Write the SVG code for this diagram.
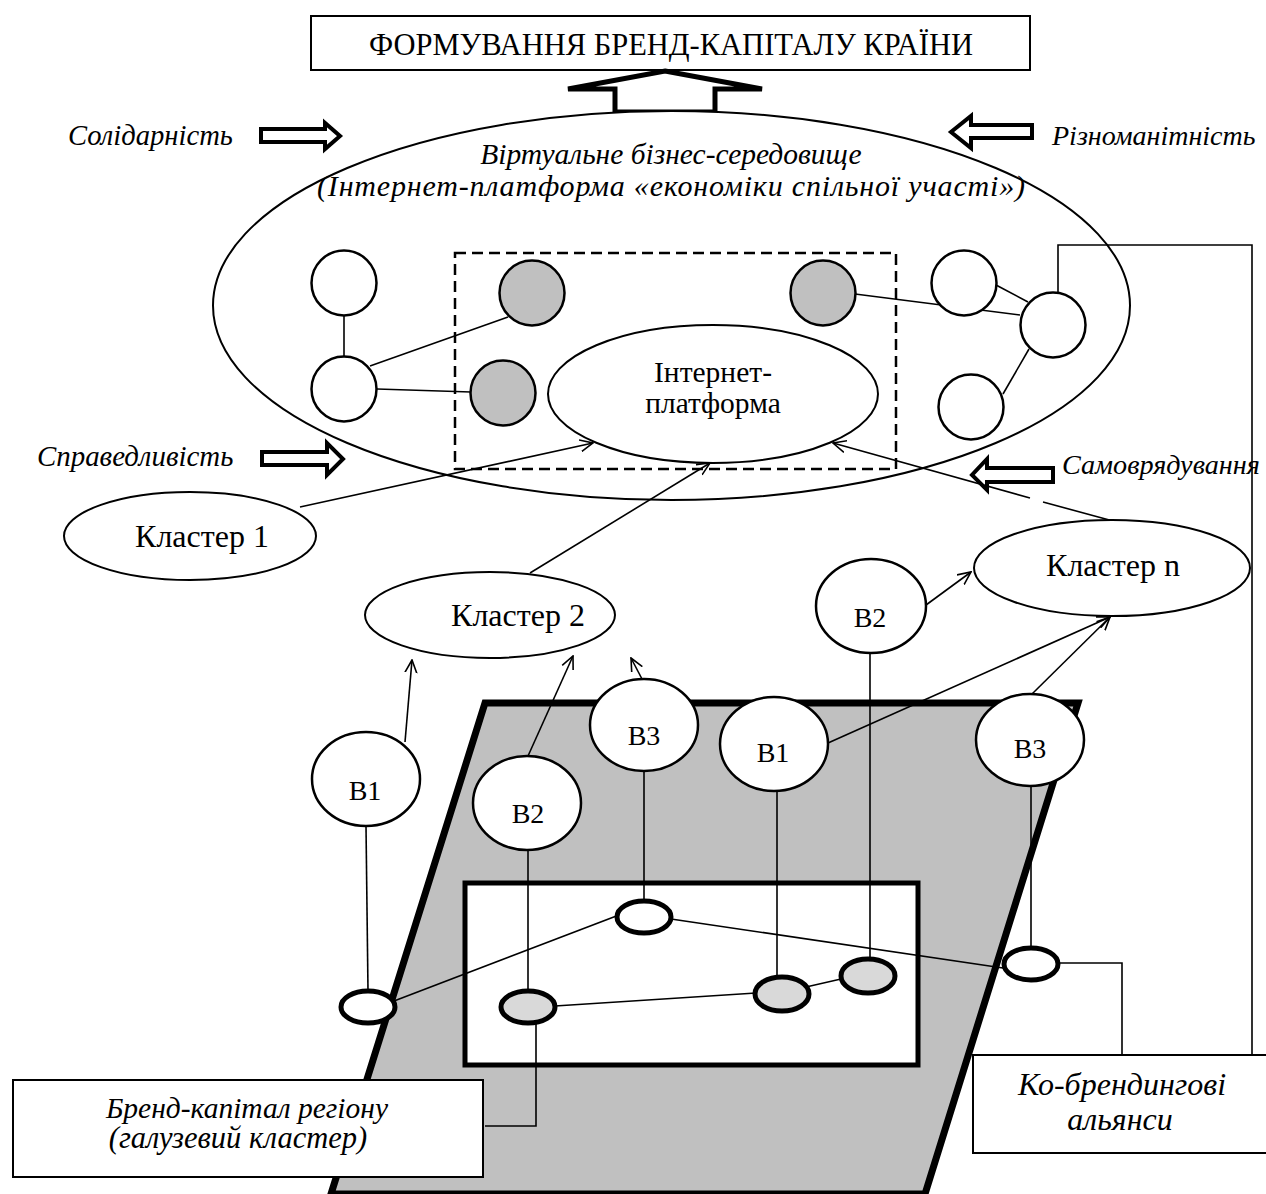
<svg xmlns="http://www.w3.org/2000/svg" width="1266" height="1194" viewBox="0 0 1266 1194" font-family="'Liberation Serif', 'Times New Roman', serif">
<defs>
<style>
text{font-family:'Liberation Serif','Times New Roman',serif;fill:#000}
.t{font-size:28px;text-anchor:middle}
.k{font-size:32px;text-anchor:middle}
.it{font-size:29px;font-style:italic}
.ln{fill:none;stroke:#000;stroke-width:1.6}
.circ{fill:#fff;stroke:#000;stroke-width:2.5}
.gc{fill:#c0c0c0;stroke:#000;stroke-width:2.5}
.se{fill:#fff;stroke:#000;stroke-width:5}
.sg{fill:#d9d9d9;stroke:#000;stroke-width:5}
.bar{fill:#fff;stroke:#000;stroke-width:4}
.el{fill:#fff;stroke:#000;stroke-width:2}
.box{fill:#fff;stroke:#000;stroke-width:2}
</style>
<marker id="ah" viewBox="0 0 14 14" refX="13" refY="7" markerWidth="14" markerHeight="14" orient="auto" markerUnits="userSpaceOnUse">
<path d="M0,1 L13,7 L0,13" fill="none" stroke="#000" stroke-width="1.6"/>
</marker>
</defs>

<g id="title">
<rect class="box" x="311" y="16" width="719" height="54"/>
<text class="t" x="671" y="55" style="font-size:30.5px">ФОРМУВАННЯ БРЕНД-КАПІТАЛУ КРАЇНИ</text>
</g>

<g id="big-arrow">
<polygon points="665,71 762,89 715,89 715,112 615,112 615,89 568,89" fill="#fff" stroke="#000" stroke-width="5" stroke-linejoin="miter"/>
</g>

<g id="virtual-env">
<ellipse class="el" cx="671.5" cy="305.5" rx="458.5" ry="194.5"/>
<text class="it" x="671" y="164" text-anchor="middle" style="font-size:29.5px">Віртуальне бізнес-середовище</text>
<text class="it" x="671" y="196" text-anchor="middle" style="font-size:30px" textLength="708" lengthAdjust="spacing">(Інтернет-платформа «економіки спільної участі»)</text>
</g>

<g id="principles">
<text class="it" x="68" y="145" style="font-size:28.6px">Солідарність</text>
<polygon class="bar" points="261,129 325,129 325,123 340,136 325,149 325,142 261,142"/>
<text class="it" x="1052" y="145" style="font-size:28px">Різноманітність</text>
<polygon class="bar" points="1032,125 971,125 971,116 951,132 971,148 971,138 1032,138"/>
<text class="it" x="37" y="466" style="font-size:28.9px">Справедливість</text>
<polygon class="bar" points="262,452 327,452 327,443 343,459 327,475 327,465 262,465"/>
<polygon class="bar" points="1053,468 987,468 987,459 972,475 987,490 987,482 1053,482"/>
<text class="it" x="1062" y="474" style="font-size:28.2px">Самоврядування</text>
</g>

<g id="region">
<polygon points="485,703 1078,703 925,1194 331,1194" fill="#c0c0c0" stroke="#000" stroke-width="7"/>
<rect x="465" y="883" width="453" height="182" fill="#fff" stroke="#000" stroke-width="5"/>
</g>

<g id="platform-zone">
<rect x="455" y="253" width="441" height="216" fill="none" stroke="#000" stroke-width="2.5" stroke-dasharray="11,6"/>
</g>

<g id="connectors">
<line class="ln" x1="344" y1="316" x2="344" y2="356"/>
<line class="ln" x1="370" y1="366" x2="508" y2="317"/>
<line class="ln" x1="377" y1="389" x2="471" y2="392"/>
<line class="ln" x1="855" y1="294" x2="1020" y2="315"/>
<line class="ln" x1="996" y1="285" x2="1028" y2="302"/>
<line class="ln" x1="1029" y1="349" x2="1003" y2="394"/>
<polyline class="ln" points="1058,293 1058,245 1252,245 1252,1055"/>
<line class="ln" x1="300" y1="507" x2="593" y2="443" marker-end="url(#ah)"/>
<line class="ln" x1="530" y1="573" x2="710" y2="463" marker-end="url(#ah)"/>
<line class="ln" x1="1030" y1="498" x2="833" y2="443" marker-end="url(#ah)"/>
<line class="ln" x1="1113" y1="521" x2="1043" y2="502"/>
<line class="ln" x1="405" y1="742" x2="412" y2="660" marker-end="url(#ah)"/>
<line class="ln" x1="528" y1="756" x2="573" y2="656" marker-end="url(#ah)"/>
<line class="ln" x1="642" y1="679" x2="631" y2="658" marker-end="url(#ah)"/>
<line class="ln" x1="828" y1="743" x2="1110" y2="617" marker-end="url(#ah)"/>
<line class="ln" x1="1032" y1="694" x2="1110" y2="617" marker-end="url(#ah)"/>
<line class="ln" x1="926" y1="605" x2="971" y2="572" marker-end="url(#ah)"/>
<line class="ln" x1="366" y1="826" x2="368" y2="991"/>
<line class="ln" x1="528" y1="850" x2="528" y2="991"/>
<line class="ln" x1="644" y1="771" x2="644" y2="901"/>
<line class="ln" x1="777" y1="791" x2="777" y2="977"/>
<line class="ln" x1="870" y1="653" x2="870" y2="959"/>
<line class="ln" x1="1031" y1="787" x2="1031" y2="947"/>
<line class="ln" x1="394" y1="1001" x2="619" y2="915"/>
<line class="ln" x1="555" y1="1006" x2="756" y2="993"/>
<line class="ln" x1="806" y1="987" x2="841" y2="979"/>
<line class="ln" x1="671" y1="919" x2="1003" y2="968"/>
<polyline class="ln" points="1059,963 1122,963 1122,1055"/>
<polyline class="ln" points="536,1024 536,1126 485,1126"/>
</g>

<g id="env-nodes">
<circle class="circ" cx="344" cy="283" r="32.5"/>
<circle class="circ" cx="344" cy="389" r="32.5"/>
<circle class="gc" cx="532" cy="293" r="32.5"/>
<circle class="gc" cx="503" cy="393" r="32.5"/>
<circle class="gc" cx="823" cy="293" r="32.5"/>
<circle class="circ" cx="964" cy="283" r="32.5"/>
<circle class="circ" cx="1053" cy="325" r="32.5"/>
<circle class="circ" cx="971" cy="407" r="32.5"/>
</g>

<g id="internet-platform">
<ellipse class="el" cx="713" cy="394" rx="165" ry="69" stroke-width="2.5"/>
<text class="t" x="713" y="382" style="font-size:29.5px">Інтернет-</text>
<text class="t" x="713" y="413" style="font-size:29.5px">платформа</text>
</g>

<g id="cluster-1">
<ellipse class="el" cx="190" cy="536" rx="126" ry="44"/>
<text class="k" x="202" y="547">Кластер 1</text>
</g>
<g id="cluster-2">
<ellipse class="el" cx="490" cy="615" rx="125" ry="43"/>
<text class="k" x="518" y="626">Кластер 2</text>
</g>
<g id="cluster-n">
<ellipse class="el" cx="1112" cy="568" rx="138" ry="48"/>
<text class="k" x="1113" y="576">Кластер n</text>
</g>

<g id="brand-b1-left">
<ellipse class="circ" cx="366" cy="779" rx="54" ry="47"/>
<text class="t" x="365" y="800">В1</text>
</g>
<g id="brand-b2-left">
<ellipse class="circ" cx="527" cy="803" rx="54" ry="47"/>
<text class="t" x="528" y="823">В2</text>
</g>
<g id="brand-b3-left">
<ellipse class="circ" cx="644" cy="725" rx="54" ry="46"/>
<text class="t" x="644" y="745">В3</text>
</g>
<g id="brand-b1-right">
<ellipse class="circ" cx="774" cy="744" rx="54" ry="47"/>
<text class="t" x="773" y="762">В1</text>
</g>
<g id="brand-b2-right">
<ellipse class="circ" cx="871" cy="606" rx="55" ry="47"/>
<text class="t" x="870" y="627">В2</text>
</g>
<g id="brand-b3-right">
<ellipse class="circ" cx="1030" cy="740" rx="54" ry="46"/>
<text class="t" x="1030" y="758">В3</text>
</g>

<g id="regional-nodes">
<ellipse class="se" cx="368" cy="1007" rx="27" ry="16"/>
<ellipse class="sg" cx="528" cy="1007" rx="27" ry="16"/>
<ellipse class="se" cx="644" cy="917" rx="27" ry="16"/>
<ellipse class="sg" cx="782" cy="994" rx="27" ry="17"/>
<ellipse class="sg" cx="868" cy="976" rx="27" ry="17"/>
<ellipse class="se" cx="1031" cy="964" rx="27" ry="16"/>
</g>

<g id="brand-capital-region">
<rect class="box" x="13" y="1080" width="470" height="97"/>
<text class="it" x="247" y="1118" text-anchor="middle" style="font-size:29.5px">Бренд-капітал регіону</text>
<text class="it" x="238" y="1148" text-anchor="middle" style="font-size:30.5px">(галузевий кластер)</text>
</g>

<g id="co-branding">
<rect class="box" x="973" y="1055" width="300" height="98"/>
<text class="it" x="1122" y="1095" text-anchor="middle" style="font-size:32px">Ко-брендингові</text>
<text class="it" x="1120" y="1130" text-anchor="middle" style="font-size:32px">альянси</text>
</g>
</svg>
